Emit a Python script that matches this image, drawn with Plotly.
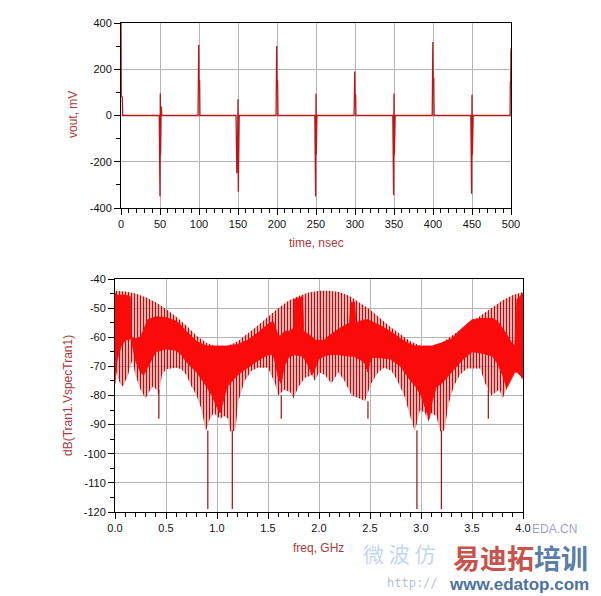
import plotly.graph_objects as go

W, H = 601, 596
OFF = 8  # page body margin in the browser

# ---------------- top plot data (time domain) ----------------
t_ns = [0, 0.4, 1.6, 2.2,
        49, 49.5, 50, 50.4, 50.8, 51.5, 52.3,
        98.8, 99.2, 99.6, 100.0, 100.8, 101.2,
        147.5, 148, 148.5, 149.5, 150, 150.4, 150.8, 151.5,
        198.8, 199.2, 199.6, 200, 200.8, 201.2,
        248.5, 249, 249.5, 250, 250.4, 251.2,
        298.8, 299.2, 299.6, 300, 300.8, 301.2,
        348.5, 349, 349.5, 350, 350.5, 351.5,
        399, 399.4, 399.8, 400.2, 401, 401.4,
        448.5, 449, 449.5, 450, 450.5, 451.5,
        498.8, 499.2, 499.6, 500]
vout_mv = [400, 85, 80, 0,
           0, -170, -350, 95, -170, 40, 0,
           0, 150, 305, 150, 150, 0,
           0, -90, -250, -130, 70, -330, -120, 0,
           0, 150, 300, 150, 150, 0,
           0, -170, -350, 95, -170, 0,
           0, 90, 190, 90, 90, 0,
           0, -170, -345, 95, -170, 0,
           0, 160, 318, 160, 160, 0,
           0, -170, -338, 90, -170, 0,
           0, 146, 146, 290]

time_ticks = [0, 50, 100, 150, 200, 250, 300, 350, 400, 450, 500]
time_ticktext = ["0", "50", "100", "150", "200", "250", "300", "350", "400", "450", "500"]
vout_ticks = [-400, -200, 0, 200, 400]
vout_ticktext = ["-400", "-200", "0", "200", "400"]

# ---------------- bottom plot data (spectrum) ----------------
# upper envelope of the spectral comb
f_upper = [0.0, 0.1, 0.2, 0.3, 0.4, 0.5, 0.6, 0.7, 0.8, 0.9, 1.0, 1.1, 1.2, 1.3, 1.4,
           1.5, 1.6, 1.7, 1.8, 1.9, 2.0, 2.1, 2.2, 2.3, 2.4, 2.5, 2.6, 2.7, 2.8, 2.9,
           3.0, 3.1, 3.2, 3.3, 3.4, 3.5, 3.6, 3.7, 3.8, 3.9, 4.0]
db_upper = [-44, -44.3, -45, -46.3, -48, -50.3, -53, -56, -59.5, -62, -63.2, -63, -61.5,
            -58.8, -56, -53, -50, -47.5, -45.8, -44.6, -44, -44, -44.5, -45.8, -48, -50.5,
            -53.5, -56.5, -59, -61.5, -63, -63, -62, -59.5, -57, -54.5, -52, -49.5, -47.3,
            -45.5, -44.5]
# lower envelope of the spectral comb
f_lower = [0.00, 0.02, 0.05, 0.08, 0.10, 0.12, 0.15, 0.17, 0.20, 0.25, 0.30, 0.33, 0.37,
           0.41, 0.43, 0.46, 0.50, 0.60, 0.65, 0.70, 0.75, 0.80, 0.85, 0.89, 0.93, 0.97,
           1.00, 1.03, 1.07, 1.11, 1.13, 1.18, 1.21, 1.27, 1.34, 1.40, 1.50, 1.57, 1.60,
           1.66, 1.72, 1.75, 1.80, 1.86, 1.93, 1.96, 2.00, 2.06, 2.12, 2.19, 2.25, 2.32,
           2.40, 2.45, 2.51, 2.58, 2.64, 2.71, 2.77, 2.84, 2.90, 2.94, 2.99, 3.04, 3.07,
           3.10, 3.15, 3.19, 3.23, 3.27, 3.32, 3.38, 3.45, 3.58, 3.63, 3.69, 3.77, 3.80,
           3.84, 3.92, 3.97, 4.00]
db_lower = [-70, -73, -76, -77, -75, -74, -70, -68, -73, -78, -81, -79, -77,
            -78, -80, -73, -71, -70.5, -71, -73, -77, -80, -85, -92.4, -88, -86,
            -87, -88, -87, -88, -92.4, -92, -82, -75, -71.5, -70.5, -70.5, -76, -80,
            -78, -79, -81, -77, -74, -73, -75, -72, -73, -76, -72, -75, -80,
            -81, -82, -76, -72, -70.5, -71.5, -75, -80.5, -87.8, -92.4, -85, -86, -89,
            -86, -87, -92.4, -92, -83, -77, -73, -70.7, -70.7, -76, -80, -78, -81,
            -78, -71, -73, -75]
# dense (merged) band of the comb
f_band = [0.00, 0.02, 0.06, 0.10, 0.15, 0.16, 0.20, 0.25, 0.28, 0.32, 0.40, 0.50, 0.60,
          0.65, 0.70, 0.80, 0.90, 0.95, 1.00, 1.03, 1.06, 1.10, 1.20, 1.30, 1.40, 1.50,
          1.55, 1.58, 1.60, 1.63, 1.66, 1.70, 1.75, 1.76, 1.84, 1.85, 1.90, 1.93, 1.97,
          2.00, 2.05, 2.10, 2.20, 2.30, 2.31, 2.35, 2.36, 2.40, 2.45, 2.48, 2.51, 2.60,
          2.70, 2.80, 2.90, 2.95, 3.00, 3.05, 3.08, 3.11, 3.15, 3.20, 3.30, 3.40, 3.50,
          3.60, 3.70, 3.75, 3.80, 3.84, 3.88, 3.92, 3.94, 4.00]
db_band_top = [-45, -45.5, -45.5, -45.5, -46, -60, -60.5, -60, -57.5, -54, -53, -53.2, -54.5,
               -56, -58, -61.5, -63, -63, -63.2, -63.2, -63, -63, -62.5, -61, -58.5, -55.5,
               -54.5, -58, -59.5, -59.5, -58, -58, -57, -47, -46, -58, -59, -60, -61,
               -61, -61, -59.5, -57, -55, -48, -48, -55, -54.5, -54, -54, -54.5, -56,
               -58, -60.5, -62.5, -63, -63, -63, -63, -63, -62.5, -62, -60.5, -57, -54,
               -53.5, -53.5, -54.5, -57, -59, -61.5, -63, -47, -45]
db_band_bottom = [-76, -68, -63, -61, -60.5, -61, -68, -72, -73, -70, -65, -64, -64.5,
                  -66, -68.5, -72, -77, -80, -84, -86, -82, -77, -73, -70.5, -68, -66,
                  -66, -70, -74, -76, -70, -67, -66, -66, -66.5, -67, -70, -73, -70,
                  -67.5, -66.5, -66, -66, -66.5, -66.5, -66.5, -67, -67.5, -69, -72, -67, -67,
                  -67.5, -70, -75, -77, -80, -85, -88, -82, -77, -76, -72, -68, -65,
                  -65.5, -66.5, -69, -73, -77.5, -75, -72, -72, -74]
# isolated deep lines of the comb
f_dips = [0.43, 0.91, 1.15, 1.63, 2.48, 2.96, 3.20, 3.66]
db_dip_start = [-78, -92, -92, -80, -82, -92, -92, -78]
db_dip_end = [-88, -119, -119, -88, -88, -119, -119, -88]

freq_ticks = [0.0, 0.5, 1.0, 1.5, 2.0, 2.5, 3.0, 3.5, 4.0]
freq_ticktext = ["0.0", "0.5", "1.0", "1.5", "2.0", "2.5", "3.0", "3.5", "4.0"]
db_ticks = [-120, -110, -100, -90, -80, -70, -60, -50, -40]
db_ticktext = ["-120", "-110", "-100", "-90", "-80", "-70", "-60", "-50", "-40"]

# ---------------- figure ----------------
TITLE_COLOR = "#a83a3a"
SANS = "Liberation Sans, Arial, sans-serif"
TICK_FONT = dict(family=SANS, size=11, color="#111111")
GRID = "#b4b4b4"


def px_x(px):
    return (px - OFF) / W


def px_y(py):
    return 1 - (py - OFF) / H


fig = go.Figure()

fig.add_trace(go.Scatter(x=t_ns, y=vout_mv, mode="lines", xaxis="x", yaxis="y",
                         line=dict(color="#b81818", width=1.3), showlegend=False,
                         hoverinfo="skip"))

poly_x = f_upper + f_lower[::-1]
poly_y = db_upper + db_lower[::-1]
fig.add_trace(go.Scatter(x=poly_x, y=poly_y, mode="lines", fill="toself", xaxis="x2", yaxis="y2",
                         line=dict(width=0, color="rgba(0,0,0,0)"),
                         fillcolor="rgba(0,0,0,0)",
                         fillpattern=dict(shape="|", size=3, solidity=0.5,
                                          fgcolor="#a81414", bgcolor="rgba(255,190,190,0.45)",
                                          fillmode="replace"),
                         showlegend=False, hoverinfo="skip"))

band_x = f_band + f_band[::-1]
band_y = db_band_top + db_band_bottom[::-1]
fig.add_trace(go.Scatter(x=band_x, y=band_y, mode="lines", fill="toself", xaxis="x2", yaxis="y2",
                         line=dict(width=0.8, color="#f80808"), fillcolor="#fb0a0a",
                         showlegend=False, hoverinfo="skip"))

dip_x, dip_y = [], []
for f, a, b in zip(f_dips, db_dip_start, db_dip_end):
    dip_x += [f, f, None]
    dip_y += [a, b, None]
fig.add_trace(go.Scatter(x=dip_x, y=dip_y, mode="lines", xaxis="x2", yaxis="y2",
                         line=dict(color="#9a1010", width=1.2), showlegend=False,
                         hoverinfo="skip"))

axis_common = dict(showline=True, mirror=True, linecolor="black", linewidth=1,
                   showgrid=True, gridcolor=GRID, gridwidth=1, zeroline=False,
                   ticks="outside", ticklen=6, tickcolor="black", tickwidth=1,
                   tickfont=TICK_FONT, tickmode="array", automargin=False)

fig.update_layout(
    width=W, height=H, margin=dict(l=0, r=0, t=0, b=0, autoexpand=False),
    paper_bgcolor="white", plot_bgcolor="white",
    xaxis=dict(domain=[px_x(121), px_x(511)], anchor="y", range=[0, 500],
               tickvals=time_ticks, ticktext=time_ticktext,
               minor=dict(tickmode="linear", tick0=0, dtick=10, ticks="outside",
                          ticklen=4, tickcolor="black", showgrid=False),
               **axis_common),
    yaxis=dict(domain=[px_y(208), px_y(23)], anchor="x", range=[-400, 400],
               tickvals=vout_ticks, ticktext=vout_ticktext,
               minor=dict(tickmode="linear", tick0=0, dtick=100, ticks="outside",
                          ticklen=4, tickcolor="black", showgrid=False),
               **axis_common),
    xaxis2=dict(domain=[px_x(115), px_x(523)], anchor="y2", range=[0, 4],
                tickvals=freq_ticks, ticktext=freq_ticktext,
                minor=dict(tickmode="linear", tick0=0, dtick=0.1, ticks="outside",
                           ticklen=4, tickcolor="black", showgrid=False),
                **axis_common),
    yaxis2=dict(domain=[px_y(512), px_y(279)], anchor="x2", range=[-120, -40],
                tickvals=db_ticks, ticktext=db_ticktext,
                minor=dict(tickmode="linear", tick0=0, dtick=5, ticks="outside",
                           ticklen=4, tickcolor="black", showgrid=False),
                **axis_common),
)


def ann(text, px, py, size, color, bold=False, family="Noto Sans CJK SC, sans-serif",
        angle=0):
    fig.add_annotation(x=px_x(px), y=px_y(py), xref="paper", yref="paper",
                       text=("<b>%s</b>" % text) if bold else text, showarrow=False,
                       font=dict(size=size, color=color, family=family), textangle=angle,
                       xanchor="center", yanchor="middle")


# axis titles
ann("vout, mV", 73, 115, 12, TITLE_COLOR, family=SANS, angle=-90)
ann("time, nsec", 316, 243, 12, TITLE_COLOR, family=SANS)
ann("dB(Tran1.VspecTran1)", 68, 396, 12, TITLE_COLOR, family=SANS, angle=-90)
ann("freq, GHz", 318, 548, 12, TITLE_COLOR, family=SANS)

# watermark texts
ann("EDA.CN", 554, 529, 12, "#a0a0d2", family=SANS)
ann("微 波 仿", 399, 553, 21, "rgba(140,180,225,0.55)")
ann("http://", 412, 583, 12, "rgba(150,170,200,0.75)", family="DejaVu Sans Mono, monospace")
ann('<span style="color:#c8524c">易迪拓</span><span style="color:#5a7ea6">培训</span>',
    520, 557, 27, "#c8524c", bold=True)
ann("www.edatop.com", 519, 584, 17, "#4d72a0", bold=True, family=SANS)

fig.write_html("out.html")
